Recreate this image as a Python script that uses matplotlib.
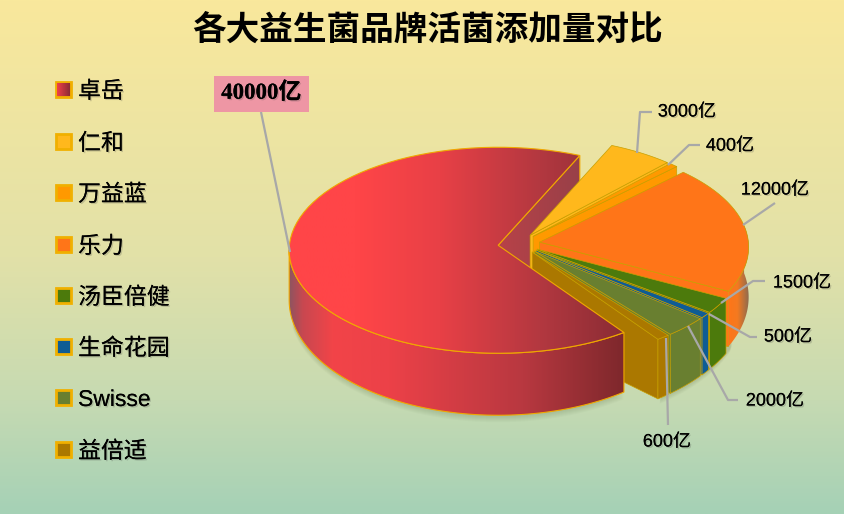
import numpy as np
import matplotlib
matplotlib.use('Agg')
import matplotlib.pyplot as plt
import matplotlib.patheffects as pe
from matplotlib.patches import Polygon, Rectangle
from matplotlib.colors import to_rgb

brands = ['卓岳', '仁和', '万益蓝', '乐力', '汤臣倍健', '生命花园', 'Swisse', '益倍适']
values = [40000, 3000, 400, 12000, 1500, 500, 2000, 600]
colors = ['#E83C42', '#FFB81C', '#FF9900', '#FF7518', '#4C7A0C', '#0F5C94', '#697F30', '#AB7800']
value_labels = ['40000亿', '3000亿', '400亿', '12000亿', '1500亿', '500亿', '2000亿', '600亿']

plt.rcParams['font.family'] = ['Liberation Sans', 'Noto Sans CJK SC', 'DejaVu Sans']
fig = plt.figure(figsize=(8.44, 5.14), dpi=100)
ax = fig.add_axes([0, 0, 1, 1])
ax.set_axis_off()
W, H = 844, 514


def grad(stops, clip=None, extent=(0, W, H, 0), vertical=False, z=1):
    pos = [s[0] for s in stops]
    rgb = np.array([to_rgb(s[1]) for s in stops])
    t = np.linspace(0, 1, 300)
    arr = np.stack([np.interp(t, pos, rgb[:, i]) for i in range(3)], axis=1)
    arr = arr[:, None, :] if vertical else arr[None, :, :]
    im = ax.imshow(arr, extent=extent, aspect='auto', zorder=z, interpolation='bilinear')
    if clip is not None:
        im.set_clip_path(clip)
    return im


grad([(0, '#F9E89C'), (0.5, '#E2E1A8'), (0.78, '#C6DAB2'), (1, '#A5D1B6')], vertical=True, z=0)

# geometry of the tilted pie (pixels)
CX, CY, RX, RY = 519, 249, 209, 103
EXPLODE, SQUASH = 21, 0.49
DEPTH, RY_LOW, APEX_UP, APEX_DEPTH = 50, 115, 5, 85
START = -53.0

total = sum(values)
spans = [v / total * 360 for v in values]
ends = START - np.cumsum(spans)
starts = np.concatenate([[START], ends[:-1]])
# keep the small slices in one continuous run of angles
starts[1:] += 360
ends[1:] += 360


def geom(i):
    a0, a1 = starts[i], ends[i]
    mid = np.radians((a0 + a1) / 2)
    return CX + EXPLODE * np.cos(mid), CY - EXPLODE * SQUASH * np.sin(mid), a0, a1


def rim(i, a, low=False):
    cx, cy, _, _ = geom(i)
    r = np.radians(a)
    if low:
        return cx + RX * np.cos(r), cy + DEPTH - RY_LOW * np.sin(r)
    return cx + RX * np.cos(r), cy - RY * np.sin(r)


def apex(i, low=False):
    cx, cy, _, _ = geom(i)
    return cx, cy - APEX_UP + (APEX_DEPTH if low else 0)


def arc(i, a0, a1, low=False):
    aa = np.linspace(a0, a1, 80)
    return np.array([rim(i, a, low) for a in aa])


def side_wall(i, a):
    return np.array([apex(i), rim(i, a), rim(i, a, True), apex(i, True)])


def outer_wall(i, a0, a1):
    return np.vstack([arc(i, a0, a1), arc(i, a1, a0, True)])


def top_face(i):
    _, _, a0, a1 = geom(i)
    return np.vstack([[apex(i)], arc(i, a0, a1)])


z = [2]


def poly(pts, fc, ec='#C8A000', lw=0.5):
    z[0] += 1
    p = Polygon(pts, closed=True, fc=fc, ec=ec, lw=lw, zorder=z[0], joinstyle='round')
    ax.add_patch(p)
    return p


def grad_poly(pts, stops, ec='#F0A800', lw=0.8):
    pts = np.asarray(pts)
    z[0] += 1
    p = Polygon(pts, closed=True, fc='none', ec='none', zorder=z[0])
    ax.add_patch(p)
    grad(stops, clip=p, extent=(pts[:, 0].min(), pts[:, 0].max(), H, 0), z=z[0])
    if lw:
        z[0] += 1
        ax.add_patch(Polygon(pts, closed=True, fc='none', ec=ec, lw=lw, zorder=z[0]))


# soft shadow under the front of the pie
for k in range(1, 8):
    z[0] += 1
    s = arc(0, -170, -53, True) + np.array([0, k * 1.0])
    ax.add_patch(Polygon(s, closed=True, fc='#506040', ec='none', alpha=0.03, zorder=z[0]))
    s = outer_wall(5, -20, -53) + np.array([-k * 0.3, k * 1.0])
    ax.add_patch(Polygon(s, closed=True, fc='#506040', ec='none', alpha=0.03, zorder=z[0]))

# inner wall of the big slice, seen behind the smaller slices
grad_poly(side_wall(0, ends[0]), [(0, '#B84248'), (1, '#984048')])

# small slices, back to front
for i in range(1, len(values)):
    _, _, a0, a1 = geom(i)
    poly(side_wall(i, a1), colors[i])
    if i == 3:
        w = outer_wall(i, a1, min(a0, 12))
        grad_poly(w, [(0, '#FF7518'), (0.45, '#F47A20'), (1, '#8C6A50')], lw=0)
    elif i >= 4:
        poly(outer_wall(i, a1, a0), colors[i])
    poly(top_face(i), colors[i])

# big slice: curved wall and top
wall = outer_wall(0, -180, starts[0])
grad_poly(wall, [(0, '#8E5460'), (0.04, '#C84850'), (0.13, '#F24448'), (0.3, '#EC4148'),
                 (0.7, '#B83840'), (1, '#7E282C')])
grad_poly(top_face(0), [(0, '#FF4548'), (0.2, '#FF4548'), (0.45, '#E84046'),
                        (0.75, '#B33840'), (1, '#8A2C34')])

# chart text
shadow = [pe.withSimplePatchShadow(offset=(1.0, -1.0), shadow_rgbFace='#404040', alpha=0.22), pe.Normal()]
ax.text(428, 30, '各大益生菌品牌活菌添加量对比', fontsize=24.2, fontweight='bold',
        ha='center', va='center', color='black', family=['Noto Sans CJK SC'], zorder=100)

legend_y = [90, 142, 193, 245, 296, 347, 398, 450]
legend_faces = ['#D93A40', '#FFB81C', '#FF9900', '#FF7518', '#4C7A0C', '#0F5C94', '#697F30', '#AB7800']
for name, y, fc in zip(brands, legend_y, legend_faces):
    rect = Rectangle((56, y - 8), 15, 15, fc=fc, ec='#F0B000', lw=2, zorder=100)
    ax.add_patch(rect)
    if name == brands[0]:
        grad([(0, '#F04048'), (1, '#8A2C34')], extent=(57, 70, y + 6, y - 7), z=101)
    ax.text(78, y + 1.5, name, fontsize=16.5, va='center', ha='left', color='black', zorder=100,
            path_effects=shadow)

# callouts
leaders = [
    [(261, 112), (290, 252)],
    [(637, 153), (640, 112), (652, 112)],
    [(668, 165), (689, 145), (700, 145)],
    [(743, 225), (775, 203)],
    [(721, 303), (753, 281), (765, 281)],
    [(709, 314), (750, 337), (757, 337)],
    [(688, 326), (728, 400), (738, 400)],
    [(666, 338), (668, 425)],
]
label_xy = [(261, 93), (687, 112), (730, 146), (775, 190), (802, 283), (788, 337), (775, 401), (667, 442)]
for line in leaders:
    xs, ys = zip(*line)
    ax.plot(xs, ys, color='#A8A8A8', lw=1.6, zorder=90, solid_capstyle='butt')

ax.add_patch(Rectangle((214, 76), 95, 36, fc='#EE96A4', ec='none', zorder=95))
ax.text(*label_xy[0], value_labels[0], fontsize=16.5, fontweight='bold', ha='center', va='center',
        family=['Liberation Serif', 'Noto Sans CJK SC'], zorder=100, path_effects=shadow)
for lab, (x, y) in zip(value_labels[1:], label_xy[1:]):
    ax.text(x, y, lab, fontsize=13, ha='center', va='center', color='black', zorder=100,
            path_effects=shadow)

ax.set_xlim(0, W)
ax.set_ylim(H, 0)
fig.savefig('out.png', dpi=100)
